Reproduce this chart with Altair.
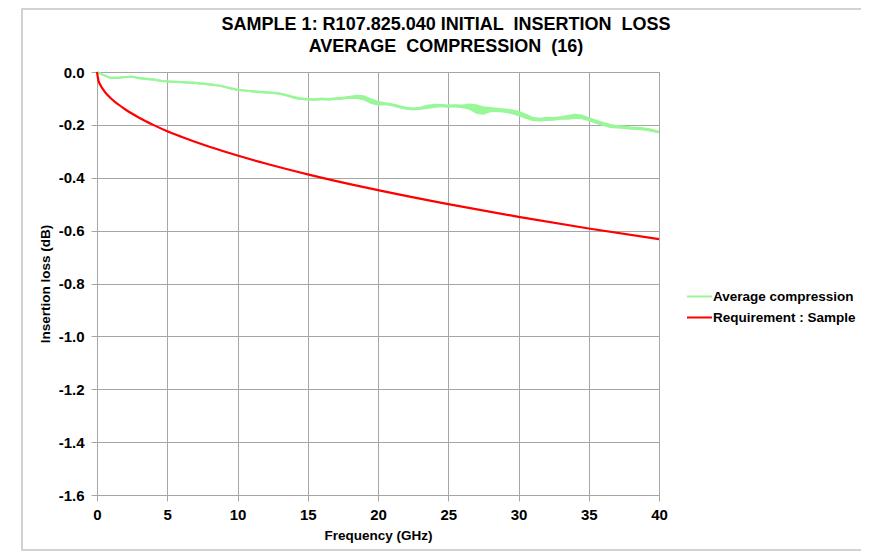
import altair as alt
import pandas as pd

# ---- data ----
freq_avg = [i * 0.5 for i in range(81)]
avg_compression = [
    0.000, -0.012, -0.022, -0.022, -0.019, -0.018, -0.023, -0.026, -0.028, -0.033,
    -0.036, -0.037, -0.038, -0.040, -0.041, -0.044, -0.047, -0.050, -0.055, -0.062,
    -0.067, -0.070, -0.073, -0.075, -0.077, -0.079, -0.082, -0.088, -0.096, -0.101,
    -0.103, -0.104, -0.102, -0.103, -0.101, -0.099, -0.096, -0.094, -0.098, -0.110,
    -0.118, -0.120, -0.124, -0.131, -0.137, -0.140, -0.137, -0.132, -0.128, -0.127,
    -0.129, -0.128, -0.130, -0.131, -0.140, -0.146, -0.142, -0.143, -0.146, -0.150,
    -0.157, -0.167, -0.177, -0.180, -0.177, -0.177, -0.174, -0.172, -0.168, -0.170,
    -0.178, -0.188, -0.196, -0.204, -0.207, -0.209, -0.212, -0.213, -0.216, -0.221,
    -0.227,
]
# half-width of the visible noise band around the average curve (dB)
avg_noise = [
    0.002, 0.003, 0.004, 0.004, 0.004, 0.004, 0.004, 0.004, 0.004, 0.004,
    0.004, 0.004, 0.004, 0.004, 0.004, 0.004, 0.004, 0.004, 0.004, 0.004,
    0.004, 0.004, 0.004, 0.004, 0.004, 0.004, 0.004, 0.005, 0.005, 0.005,
    0.005, 0.005, 0.005, 0.005, 0.005, 0.005, 0.006, 0.008, 0.010, 0.011,
    0.009, 0.006, 0.006, 0.006, 0.006, 0.006, 0.006, 0.008, 0.008, 0.006,
    0.006, 0.006, 0.007, 0.012, 0.018, 0.016, 0.010, 0.008, 0.008, 0.009,
    0.010, 0.010, 0.008, 0.007, 0.008, 0.007, 0.007, 0.009, 0.010, 0.009,
    0.008, 0.008, 0.008, 0.008, 0.007, 0.007, 0.006, 0.006, 0.006, 0.006,
    0.005,
]

freq_req = [0, 0.1, 0.25, 0.5, 1, 1.5, 2, 3, 4, 5, 6, 8, 10, 12, 15, 18, 20, 25, 30, 35, 40]
requirement = [0.0, -0.032, -0.050, -0.071, -0.100, -0.122, -0.141, -0.173, -0.200, -0.224,
               -0.245, -0.283, -0.316, -0.346, -0.387, -0.424, -0.447, -0.500, -0.548,
               -0.592, -0.632]

series_names = ["Average compression", "Requirement : Sample"]
series_colors = ["#99f799", "#ff0000"]

x_ticks = [0, 5, 10, 15, 20, 25, 30, 35, 40]
y_ticks = [0.0, -0.2, -0.4, -0.6, -0.8, -1.0, -1.2, -1.4, -1.6]

NB = "\u00a0"
title_line1 = f"SAMPLE 1: R107.825.040 INITIAL {NB}INSERTION {NB}LOSS"
title_line2 = f"AVERAGE {NB}COMPRESSION {NB}(16)"

# ---- tables ----
df_avg = pd.DataFrame({
    "f": freq_avg,
    "v": avg_compression,
    "lo": [a - n for a, n in zip(avg_compression, avg_noise)],
    "hi": [a + n for a, n in zip(avg_compression, avg_noise)],
    "series": series_names[0],
})
df_req = pd.DataFrame({"f": freq_req, "v": requirement, "series": series_names[1]})
df_lines = pd.concat([df_avg[["f", "v", "series"]], df_req], ignore_index=True)

FONT = "Liberation Sans"
W, H = 562, 423

x_enc = alt.X("f:Q", scale=alt.Scale(domain=[0, 40], nice=False, zero=False),
              axis=alt.Axis(values=x_ticks, title="Frequency (GHz)", format="d",
                            labelFlush=False,
                            titleY=44, titleBaseline="alphabetic"))
y_enc = alt.Y("v:Q", scale=alt.Scale(domain=[-1.6, 0], nice=False),
              axis=alt.Axis(values=y_ticks, title="Insertion loss (dB)",
                            labelExpr="replace(format(datum.value, '.1f'), '\u2212', '-')",
                            labelFlush=False,
                            titleX=-48, titleY=H / 2, titleBaseline="alphabetic"))

color = alt.Color("series:N",
                  scale=alt.Scale(domain=series_names, range=series_colors),
                  legend=alt.Legend(title=None, orient="none", legendX=589, legendY=211,
                                    symbolType="stroke", symbolSize=625,
                                    symbolStrokeWidth=2, labelFontSize=13.5,
                                    labelFont=FONT, labelFontWeight="bold",
                                    labelColor="#000000", labelOffset=0,
                                    rowPadding=1, padding=0))

band = alt.Chart(df_avg).mark_area(color=series_colors[0], opacity=1, interpolate="linear").encode(
    x=x_enc, y="lo:Q", y2="hi:Q")

lines = alt.Chart(df_lines).mark_line(strokeWidth=2.2, interpolate="monotone").encode(
    x=x_enc, y=y_enc, color=color, order="f:Q")

one = pd.DataFrame({"k": [0]})
frame = alt.Chart(one).mark_rect(
    fill=None, stroke="#c4c4c4", strokeWidth=1.5, clip=False).encode(
    x=alt.value(-75), x2=alt.value(800), y=alt.value(-63), y2=alt.value(478))

t1 = alt.Chart(one).mark_text(
    font=FONT, fontSize=18, fontWeight="bold", color="#000000",
    align="center", baseline="alphabetic", clip=False).encode(
    text=alt.value(title_line1), x=alt.value(349), y=alt.value(-42))
t2 = alt.Chart(one).mark_text(
    font=FONT, fontSize=18, fontWeight="bold", color="#000000",
    align="center", baseline="alphabetic", clip=False).encode(
    text=alt.value(title_line2), x=alt.value(349), y=alt.value(-20))

chart = alt.layer(frame, band, lines, t1, t2).properties(
    width=W, height=H,
    padding={"left": 89, "top": 64, "right": 202, "bottom": 56},
    autosize=alt.AutoSizeParams(type="none"),
).configure_view(stroke="#a6a6a6", strokeWidth=1).configure_axis(
    grid=True, gridColor="#a6a6a6", gridWidth=1,
    domainColor="#a6a6a6", tickColor="#a6a6a6", tickSize=6,
    labelFont=FONT, labelFontSize=15, labelFontWeight="bold", labelColor="#000000",
    titleFont=FONT, titleFontSize=13.5, titleFontWeight="bold", titleColor="#000000",
    labelPadding=7,
).configure_axisX(labelPadding=6)

chart.save("out.html", embed_options={"renderer": "svg", "actions": False})
